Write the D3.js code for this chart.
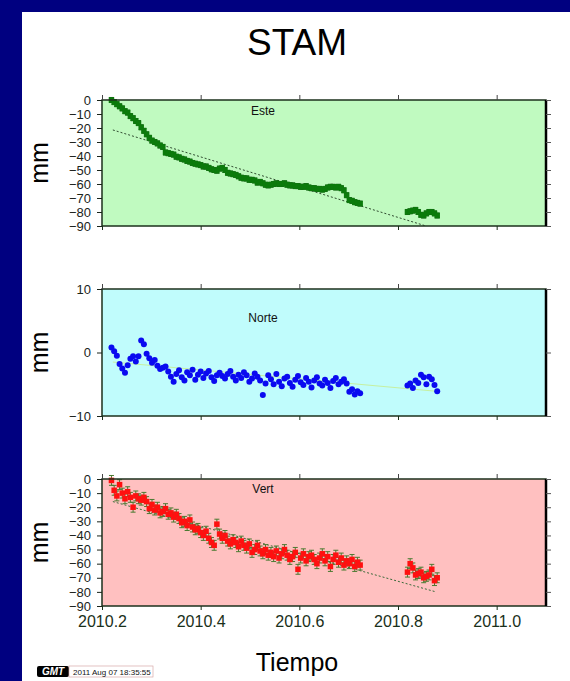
<!DOCTYPE html>
<html>
<head>
<meta charset="utf-8">
<script src="https://cdn.jsdelivr.net/npm/d3@7"></script>
<style>
body{margin:0;background:#000080;}
svg{display:block;font-family:"Liberation Sans",Arial,sans-serif;}
</style>
</head>
<body>
<svg id="chart" width="570" height="681"></svg>
<script>
// day of year (2010) of each daily solution, every other day
var days = [80,82,84,86,88,90,92,94,96,98,100,102,104,106,108,110,112,114,116,118,
    120,122,124,126,128,130,132,134,136,138,140,142,144,146,148,150,152,154,156,158,
    160,162,164,166,168,170,172,174,176,178,180,182,184,186,188,190,192,194,196,198,
    200,202,204,206,208,210,212,214,216,218,220,222,224,226,228,230,232,234,236,238,
    240,242,244,246,248,250,252,254,256,258,260,262,264,
    299,301,303,305,307,309,311,313,315,317,319,321];

var esteValues = [0,-1.5,-3,-4.5,-6,-8,-9,-11.5,-13,-15,
    -16.5,-19.5,-22,-24.5,-27,-29,-30,-31,-32.5,-33.5,
    -37.5,-38,-38.5,-39,-40.5,-41,-42,-42.5,-43.5,-44,
    -45,-45.5,-46,-46.5,-47.5,-47.5,-48.5,-49.5,-50,-50.5,
    -49,-48.5,-50,-52,-52.5,-53,-53.5,-54.5,-55.5,-56,
    -56,-57,-57,-57.5,-59,-58.5,-59.5,-60.5,-61,-60.5,
    -60,-59.5,-60,-60,-59.5,-60.5,-61,-61,-61.5,-61.5,
    -62,-62,-61.5,-62.5,-63,-63,-63.5,-63.5,-64,-63.5,
    -62.5,-62,-62,-62.5,-62,-63,-64.5,-68,-71.5,-72,
    -73,-73.5,-74,
    -80,-79.5,-79,-78.5,-80,-82,-82.5,-81,-80,-80,-81,-82.5];

var norteValues = [0.8,0.2,-0.5,-1.8,-2.5,-3.2,-2.0,-1.0,-0.6,-1.4,
    -0.6,1.9,1.3,-0.2,-0.9,-1.6,-1.2,-2.1,-2.6,-2.4,
    -2.2,-3.0,-3.8,-4.6,-3.4,-2.8,-3.9,-4.4,-3.1,-3.6,
    -2.7,-4.3,-3.5,-3.0,-4.0,-3.3,-2.9,-3.9,-4.5,-3.6,
    -3.2,-3.7,-4.1,-3.4,-2.9,-3.8,-4.4,-3.5,-4.0,-3.1,
    -3.6,-4.6,-4.1,-3.3,-3.8,-4.4,-6.7,-4.9,-3.6,-4.2,
    -5.0,-3.4,-4.6,-5.3,-4.1,-3.8,-4.8,-5.4,-4.3,-3.7,
    -4.7,-5.1,-4.0,-4.6,-5.5,-4.4,-3.9,-4.9,-5.2,-4.3,
    -4.8,-5.6,-4.5,-4.0,-5.0,-4.6,-4.2,-4.9,-6.2,-5.8,
    -6.6,-6.1,-6.4,
    -5.2,-4.9,-5.6,-4.4,-4.8,-3.5,-3.9,-5.0,-3.8,-4.2,-5.1,-6.1];

var vertValues = [-1,-8,-12,-4,-10,-14,-9,-13,-20,-12,
    -14,-15,-13,-16,-21,-18,-22,-20,-24,-23,
    -21,-25,-24,-27,-25,-28,-31,-30,-33,-29,
    -34,-36,-35,-38,-40,-37,-42,-45,-47,-32,
    -39,-42,-40,-44,-46,-43,-45,-48,-44,-47,
    -49,-46,-52,-50,-47,-51,-53,-50,-54,-52,
    -55,-51,-56,-53,-50,-54,-57,-55,-52,-64,
    -56,-53,-58,-55,-54,-57,-60,-56,-53,-58,
    -55,-62,-57,-54,-59,-56,-61,-58,-60,-57,
    -62,-59,-61,
    -66,-60,-63,-68,-67,-66,-70,-69,-68,-64,-72,-70];

// fitted trend lines [year, mm]
var esteTrend = [[2010.222,-21.4],[2010.857,-90]];
var norteTrend = [[2010.222,-1.5],[2010.877,-6.1]];
var vertTrend = [[2010.222,-16],[2010.877,-80]];

var esteSigma = 1.8;
var vertSigma = 3.5;

var yearTicks = [2010.2,2010.4,2010.6,2010.8,2011.0];
var esteTicks = [0,-10,-20,-30,-40,-50,-60,-70,-80,-90];
var norteTicks = [10,0,-10];
var vertTicks = [0,-10,-20,-30,-40,-50,-60,-70,-80,-90];

function toYear(d){ return 2010 + d/365; }

var svg = d3.select("#chart");

// navy frame and white sheet
svg.append("rect").attr("width",570).attr("height",681).attr("fill","#000080");
svg.append("rect").attr("x",22).attr("y",12).attr("width",548).attr("height",669).attr("fill","#ffffff");

var x = d3.scaleLinear().domain([2010.2, 2011.1]).range([102, 546]);

var panels = [
    {name:"Este", values:esteValues, trend:esteTrend, ticks:esteTicks, domain:[-90,0], top:100, bottom:226,
     fill:"#c0fac0", mark:"square", color:"#0b7a0b", errColor:"#165a16", sigma:esteSigma, size:5.5,
     trendColor:"#2f4a2f", dash:"2,2", labelY:115},
    {name:"Norte", values:norteValues, trend:norteTrend, ticks:norteTicks, domain:[-10,10], top:289, bottom:416,
     fill:"#c0fcfc", mark:"circle", color:"#0a0af0", sigma:0, size:3,
     trendColor:"#c6f0a0", dash:null, labelY:322},
    {name:"Vert", values:vertValues, trend:vertTrend, ticks:vertTicks, domain:[-90,0], top:479, bottom:606,
     fill:"#ffc0c0", mark:"square", color:"#ff1010", errColor:"#4a7a30", sigma:vertSigma, size:5.5,
     trendColor:"#3a6a3a", dash:"2,2", labelY:493}
];

panels.forEach(function(p, k){
    var y = d3.scaleLinear().domain(p.domain).range([p.bottom, p.top]);
    var g = svg.append("g");

    g.append("rect")
        .attr("x",102).attr("y",p.top)
        .attr("width",444).attr("height",p.bottom-p.top)
        .attr("fill",p.fill);

    var pts = days.map(function(d,i){ return {t:toYear(d), v:p.values[i]}; });

    // trend line
    g.append("path")
        .datum(p.trend)
        .attr("d", d3.line().x(function(d){ return x(d[0]); }).y(function(d){ return y(d[1]); }))
        .attr("fill","none")
        .attr("stroke",p.trendColor)
        .attr("stroke-width",1)
        .attr("stroke-dasharray",p.dash);

    // error bars
    if (p.sigma) {
        var eb = g.append("g").attr("stroke",p.errColor).attr("stroke-width",1);
        eb.selectAll("line.bar").data(pts).enter().append("line")
            .attr("class","bar")
            .attr("x1",function(d){ return x(d.t); }).attr("x2",function(d){ return x(d.t); })
            .attr("y1",function(d){ return y(d.v+p.sigma); }).attr("y2",function(d){ return y(d.v-p.sigma); });
        eb.selectAll("line.capt").data(pts).enter().append("line")
            .attr("class","capt")
            .attr("x1",function(d){ return x(d.t)-2.5; }).attr("x2",function(d){ return x(d.t)+2.5; })
            .attr("y1",function(d){ return y(d.v+p.sigma); }).attr("y2",function(d){ return y(d.v+p.sigma); });
        eb.selectAll("line.capb").data(pts).enter().append("line")
            .attr("class","capb")
            .attr("x1",function(d){ return x(d.t)-2.5; }).attr("x2",function(d){ return x(d.t)+2.5; })
            .attr("y1",function(d){ return y(d.v-p.sigma); }).attr("y2",function(d){ return y(d.v-p.sigma); });
    }

    // points
    if (p.mark == "square") {
        g.selectAll("rect.pt").data(pts).enter().append("rect")
            .attr("class","pt")
            .attr("x",function(d){ return x(d.t)-p.size/2; })
            .attr("y",function(d){ return y(d.v)-p.size/2; })
            .attr("width",p.size).attr("height",p.size)
            .attr("fill",p.color);
    } else {
        g.selectAll("circle.pt").data(pts).enter().append("circle")
            .attr("class","pt")
            .attr("cx",function(d){ return x(d.t); })
            .attr("cy",function(d){ return y(d.v); })
            .attr("r",p.size)
            .attr("fill",p.color);
    }

    // frame
    g.append("rect")
        .attr("x",102).attr("y",p.top)
        .attr("width",444).attr("height",p.bottom-p.top)
        .attr("fill","none")
        .attr("stroke","#1d301d")
        .attr("stroke-width",1.5);
    g.append("line")
        .attr("x1",546).attr("x2",546).attr("y1",p.top).attr("y2",p.bottom)
        .attr("stroke","#000").attr("stroke-width",2.5);

    // axes
    var left = g.append("g")
        .attr("transform","translate(102,0)")
        .call(d3.axisLeft(y).tickValues(p.ticks).tickSize(5).tickPadding(6).tickFormat(d3.format("d")));
    left.select(".domain").remove();
    left.attr("font-size",13).attr("font-family",null).style("color","#1a241a");

    var right = g.append("g")
        .attr("transform","translate(546,0)")
        .call(d3.axisRight(y).tickValues(p.ticks).tickSize(5).tickFormat(""));
    right.select(".domain").remove();
    right.style("color","#555");

    var topAx = g.append("g")
        .attr("transform","translate(0,"+p.top+")")
        .call(d3.axisTop(x).tickValues(yearTicks).tickSize(5).tickFormat(""));
    topAx.select(".domain").remove();
    topAx.style("color","#444");

    var bottomAx = g.append("g")
        .attr("transform","translate(0,"+p.bottom+")")
        .call(d3.axisBottom(x).tickValues(yearTicks).tickSize(4).tickPadding(6)
            .tickFormat(k == 2 ? d3.format(".1f") : ""));
    bottomAx.select(".domain").remove();
    bottomAx.attr("font-size",16).attr("font-family",null).style("color","#1a301a");

    // component label
    g.append("text")
        .attr("x",263).attr("y",p.labelY)
        .attr("text-anchor","middle")
        .attr("font-size",12)
        .attr("fill","#111")
        .text(p.name);

    // y label
    g.append("text")
        .attr("transform","translate(48,"+((p.top+p.bottom)/2)+") rotate(-90)")
        .attr("text-anchor","middle")
        .attr("font-size",25)
        .attr("fill","#000")
        .text("mm");
});

// title and x label
svg.append("text")
    .attr("x",297).attr("y",55)
    .attr("text-anchor","middle")
    .attr("font-size",37)
    .attr("fill","#000")
    .text("STAM");

svg.append("text")
    .attr("x",297).attr("y",671)
    .attr("text-anchor","middle")
    .attr("font-size",25)
    .attr("fill","#000")
    .text("Tiempo");

// GMT time stamp
var stamp = svg.append("g").attr("transform","translate(37,666)");
stamp.append("rect").attr("width",32).attr("height",11).attr("rx",2).attr("fill","#000");
stamp.append("text").attr("x",16).attr("y",9).attr("text-anchor","middle")
    .attr("font-size",10).attr("font-weight","bold").attr("font-style","italic")
    .attr("fill","#fff").text("GMT");
stamp.append("rect").attr("x",32).attr("width",84).attr("height",11)
    .attr("fill","#fff").attr("stroke","#d8a8a8").attr("stroke-width",0.7);
stamp.append("text").attr("x",36).attr("y",8.5)
    .attr("font-size",8).attr("fill","#111").text("2011 Aug 07 18:35:55");
</script>
</body>
</html>
